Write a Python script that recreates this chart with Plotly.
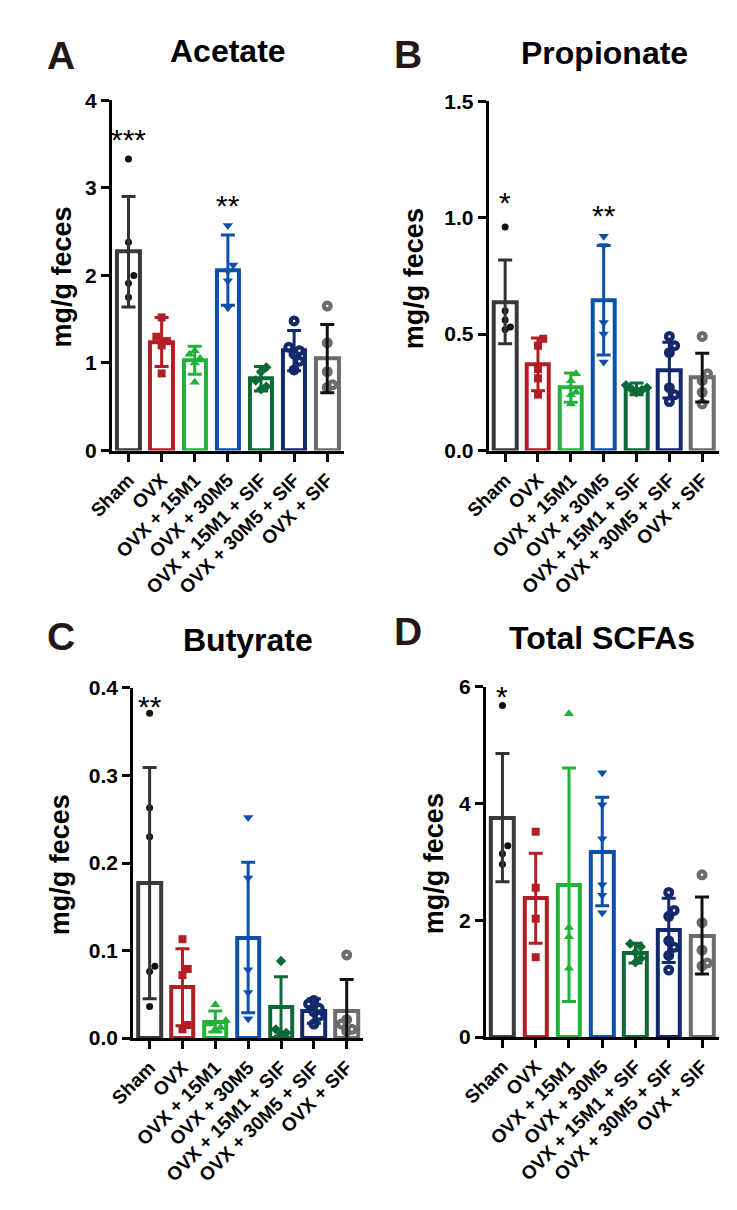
import plotly.graph_objects as go

W, H = 737, 1210

groups = ["Sham", "OVX", "OVX + 15M1", "OVX + 30M5", "OVX + 15M1 + SIF", "OVX + 30M5 + SIF", "OVX + SIF"]

bar_colors = ["#3a3a3a", "#b31d25", "#22b23c", "#0d50a9", "#0d6a36", "#13296b", "#6c6c6c"]
err_colors = ["#333333", "#b31d25", "#22b23c", "#0d50a9", "#0d6a36", "#13296b", "#111111"]
pt_colors = ["#111111", "#b31d25", "#22b23c", "#0d50a9", "#0d6a36", "#13296b", "#6c6c6c"]
pt_symbols = ["circle", "square", "triangle-up", "triangle-down", "diamond", "circle", "circle"]
pt_sizes = [7, 8, 9, 9, 8, 11, 11]
pt_dot = [False, False, False, False, False, True, True]

# Acetate
acetate_mean = [2.27, 1.24, 1.03, 2.06, 0.82, 1.14, 1.05]
acetate_sd = [0.63, 0.28, 0.16, 0.40, 0.14, 0.23, 0.39]
acetate_pts = [
    [3.33, 2.38, 2.00, 1.91, 1.75],
    [1.52, 1.30, 1.25, 1.20, 0.88],
    [1.14, 1.10, 1.05, 1.00, 0.78],
    [2.57, 2.12, 2.05, 1.94, 1.63],
    [0.95, 0.90, 0.80, 0.73, 0.70],
    [1.48, 1.18, 1.14, 1.10, 1.02, 0.92],
    [1.65, 1.23, 0.90, 0.75, 0.72],
]
# Propionate
propionate_mean = [0.638, 0.370, 0.270, 0.645, 0.265, 0.345, 0.313]
propionate_sd = [0.18, 0.113, 0.063, 0.235, 0.025, 0.12, 0.105]
propionate_pts = [
    [0.96, 0.60, 0.56, 0.53, 0.52],
    [0.48, 0.45, 0.35, 0.31, 0.24],
    [0.33, 0.30, 0.25, 0.24, 0.20],
    [0.92, 0.88, 0.55, 0.50, 0.38],
    [0.28, 0.27, 0.265, 0.26, 0.25],
    [0.49, 0.45, 0.42, 0.27, 0.24, 0.21],
    [0.49, 0.33, 0.30, 0.25, 0.20],
]
# Butyrate
butyrate_mean = [0.177, 0.058, 0.019, 0.115, 0.036, 0.031, 0.031]
butyrate_sd = [0.132, 0.044, 0.012, 0.086, 0.034, 0.014, 0.036]
butyrate_pts = [
    [0.371, 0.263, 0.230, 0.082, 0.076, 0.036],
    [0.113, 0.079, 0.072, 0.015, 0.010],
    [0.038, 0.020, 0.016, 0.012, 0.010],
    [0.252, 0.183, 0.078, 0.052, 0.022],
    [0.088, 0.010, 0.006, 0.005],
    [0.043, 0.039, 0.034, 0.030, 0.025, 0.016],
    [0.095, 0.021, 0.016, 0.010, 0.008],
]
# Total SCFAs
total_mean = [3.76, 2.38, 2.61, 3.18, 1.44, 1.83, 1.74]
total_sd = [1.10, 0.77, 2.00, 0.93, 0.17, 0.55, 0.66]
total_pts = [
    [5.68, 3.28, 3.14, 2.96],
    [3.52, 2.56, 2.03, 1.37],
    [5.54, 1.88, 1.72, 1.18],
    [4.53, 3.98, 3.40, 2.61, 2.43, 2.13],
    [1.60, 1.55, 1.45, 1.35, 1.28],
    [2.48, 2.17, 2.07, 1.65, 1.54, 1.40, 1.15],
    [2.78, 1.96, 1.49, 1.27, 1.22],
]

titles = ["Acetate", "Propionate", "Butyrate", "Total SCFAs"]
letters = ["A", "B", "C", "D"]
y_max = [4, 1.5, 0.4, 6]
y_dtick = [1, 0.5, 0.1, 2]
y_fmt = ["d", ".1f", ".1f", "d"]
# significance: (group index, text, y of glyph centre)
stars = [
    [(0, "***", 3.61), (3, "**", 2.85)],
    [(0, "*", 1.087), (3, "**", 1.03)],
    [(0, "**", 0.385)],
    [(0, "*", 5.93)],
]

panels = [
    (acetate_mean, acetate_sd, acetate_pts),
    (propionate_mean, propionate_sd, propionate_pts),
    (butyrate_mean, butyrate_sd, butyrate_pts),
    (total_mean, total_sd, total_pts),
]

# layout in pixels: (x_left, x_right, y_top, y_bottom)
boxes = [(90, 330, 90, 447), (480, 718, 91, 447), (112, 350, 689, 1046), (477, 718, 688, 1045)]
title_pos = [(210, 40), (600, 42), (231, 640), (597, 638)]
letter_pos = [(37, 44), (396, 43), (37, 637), (396, 632)]
ytitle_pos = [(38, 270), (403, 272), (37, 869), (423, 868)]

FONT = "Liberation Sans, Arial, sans-serif"

fig = go.Figure()


def spread(vals, ymax, plot_h):
    """horizontal offsets so overlapping points sit side by side"""
    thr = ymax * 9.0 / plot_h
    order = sorted(range(len(vals)), key=lambda k: vals[k])
    offs = [0.0] * len(vals)
    last = None
    run = 0
    for k in order:
        if last is not None and abs(vals[k] - last) < thr:
            run += 1
            offs[k] = 0.16 * (1 if run % 2 else -1) * ((run + 1) // 2)
        else:
            run = 0
            last = vals[k]
    return offs


annotations = []
for p in range(4):
    means, sds, pts = panels[p]
    xl, xr, yt, yb = boxes[p]
    ax = "" if p == 0 else str(p + 1)
    xa, ya = "x" + ax, "y" + ax
    plot_h = yb - yt
    fig.add_trace(go.Bar(
        x=list(range(7)), y=means, width=0.68,
        marker=dict(color="white", line=dict(color=bar_colors, width=4)),
        xaxis=xa, yaxis=ya, showlegend=False,
    ))
    for g in range(7):
        offs = spread(pts[g], y_max[p], plot_h)
        xs = [g + o for o in offs]
        fig.add_trace(go.Scatter(
            x=xs, y=pts[g], mode="markers", cliponaxis=False,
            marker=dict(symbol=pt_symbols[g], size=pt_sizes[g], color=pt_colors[g], line=dict(width=0)),
            xaxis=xa, yaxis=ya, showlegend=False,
        ))
        if pt_dot[g]:
            fig.add_trace(go.Scatter(
                x=xs, y=pts[g], mode="markers", cliponaxis=False,
                marker=dict(symbol="circle", size=2.5, color="white", line=dict(width=0)),
                xaxis=xa, yaxis=ya, showlegend=False,
            ))
        fig.add_trace(go.Scatter(
            x=[g], y=[means[g]], mode="markers", cliponaxis=False,
            marker=dict(size=1, color="rgba(0,0,0,0)"),
            error_y=dict(type="data", array=[sds[g]], color=err_colors[g], thickness=3, width=7),
            xaxis=xa, yaxis=ya, showlegend=False,
        ))
    xkey = "xaxis" + ax
    ykey = "yaxis" + ax
    fig.layout[xkey] = dict(
        domain=[xl / W, xr / W], range=[-0.5, 6.5], anchor=ya,
        showline=True, linewidth=3, linecolor="black", ticks="outside", ticklen=8, tickwidth=3,
        tickcolor="black", tickvals=list(range(7)), ticktext=groups, tickangle=-45,
        tickfont=dict(family=FONT, size=19, color="black", weight="bold"),
        showgrid=False, zeroline=False, fixedrange=True,
    )
    fig.layout[ykey] = dict(
        domain=[1 - yb / H, 1 - yt / H], range=[0, y_max[p]], anchor=xa,
        showline=True, linewidth=3, linecolor="black", ticks="outside", ticklen=8, tickwidth=3,
        tickcolor="black", dtick=y_dtick[p], tick0=0, tickformat=y_fmt[p],
        tickfont=dict(family=FONT, size=21, color="black", weight="bold"),
        showgrid=False, zeroline=False, fixedrange=True,
    )
    tx, ty = title_pos[p]
    annotations.append(dict(text=titles[p], x=tx / W, y=1 - ty / H, xref="paper", yref="paper",
                            xanchor="center", yanchor="middle", showarrow=False,
                            font=dict(family=FONT, size=32, color="black", weight="bold")))
    lx, ly = letter_pos[p]
    annotations.append(dict(text=letters[p], x=lx / W, y=1 - ly / H, xref="paper", yref="paper",
                            xanchor="center", yanchor="middle", showarrow=False,
                            font=dict(family=FONT, size=39, color="#231815", weight="bold")))
    yx, yy = ytitle_pos[p]
    annotations.append(dict(text="mg/g feces", x=yx / W, y=1 - yy / H, xref="paper", yref="paper",
                            xanchor="center", yanchor="middle", showarrow=False, textangle=-90,
                            font=dict(family=FONT, size=27, color="black", weight="bold")))
    for (g, s, sy) in stars[p]:
        annotations.append(dict(text=s, x=g, y=sy, xref=xa, yref=ya, xanchor="center", yanchor="middle",
                                showarrow=False, yshift=-5,
                                font=dict(family=FONT, size=30, color="black")))

fig.update_layout(
    width=W, height=H, margin=dict(l=0, r=0, t=0, b=0),
    paper_bgcolor="white", plot_bgcolor="white",
    annotations=annotations, showlegend=False, bargap=0,
)

fig.write_html("out.html", config={"displayModeBar": False},
               post_script="document.body.style.margin='0';document.body.style.padding='0';")
